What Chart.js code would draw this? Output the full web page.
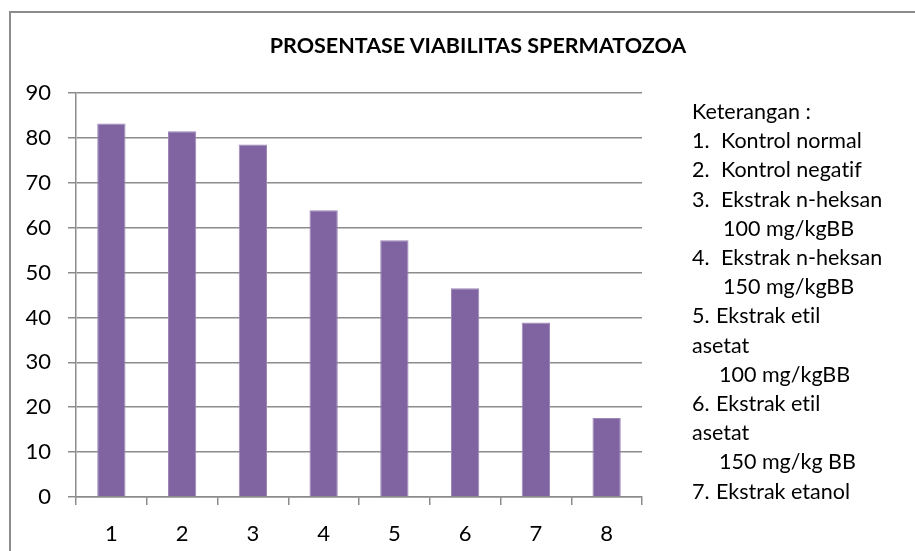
<!DOCTYPE html>
<html lang="id">
<head>
    <meta charset="UTF-8">
    <title>Prosentase Viabilitas Spermatozoa</title>
    <script src="https://cdn.jsdelivr.net/npm/chart.js"></script>
    <style>
        body {
            margin: 0;
            background: #ffffff;
            font-family: 'Lato', sans-serif;
            font-variant-ligatures: none;
            color: #000000;
        }
        .wrap {
            position: relative;
            width: 915px;
            height: 551px;
            overflow: hidden;
        }
        .frame {
            position: absolute;
            left: 9px;
            top: 11px;
            right: -10px;
            bottom: -10px;
            border: 2px solid #8c8c8c;
        }
        canvas {
            position: absolute;
            left: 0;
            top: 0;
        }
        .title {
            position: absolute;
            left: 0;
            width: 956px;
            top: 32px;
            text-align: center;
            font-weight: bold;
            font-size: 21.5px;
            line-height: 26px;
        }
        .note {
            position: absolute;
            left: 692px;
            top: 97px;
            font-size: 21.5px;
            line-height: 29.2px;
        }
        .note div { white-space: nowrap; }
        .note .n { display: inline-block; width: 29px; }
        .note .m { display: inline-block; width: 24px; }
    </style>
</head>
<body>
    <div class="wrap">
        <canvas id="viabChart" width="915" height="551"></canvas>
        <div class="frame"></div>
        <div class="title">PROSENTASE VIABILITAS SPERMATOZOA</div>
        <div class="note">
            <div>Keterangan :</div>
            <div><span class="n">1.</span>Kontrol normal</div>
            <div><span class="n">2.</span>Kontrol negatif</div>
            <div><span class="n">3.</span>Ekstrak n-heksan</div>
            <div style="padding-left:31px">100 mg/kgBB</div>
            <div><span class="n">4.</span>Ekstrak n-heksan</div>
            <div style="padding-left:31px">150 mg/kgBB</div>
            <div><span class="m">5.</span>Ekstrak etil</div>
            <div>asetat</div>
            <div style="padding-left:27px">100 mg/kgBB</div>
            <div><span class="m">6.</span>Ekstrak etil</div>
            <div>asetat</div>
            <div style="padding-left:27px">150 mg/kg BB</div>
            <div><span class="m">7.</span>Ekstrak etanol</div>
        </div>
    </div>
    <script>
        // data
        const categories = ['1', '2', '3', '4', '5', '6', '7', '8'];
        const viability = [83.2, 81.5, 78.5, 63.9, 57.2, 46.5, 38.9, 17.6];
        const yTicks = [0, 10, 20, 30, 40, 50, 60, 70, 80, 90];

        const gridColor = '#8c8c8c';
        const ctx = document.getElementById('viabChart').getContext('2d');

        new Chart(ctx, {
            type: 'bar',
            data: {
                labels: categories,
                datasets: [{
                    data: viability,
                    backgroundColor: '#8064a2',
                    borderColor: '#9d88b8',
                    borderWidth: 1,
                    barPercentage: 0.4,
                    categoryPercentage: 1.0
                }]
            },
            options: {
                responsive: false,
                animation: false,
                layout: {
                    padding: { top: 93, right: 273, left: 0, bottom: 0 }
                },
                plugins: {
                    legend: { display: false },
                    title: { display: false },
                    tooltip: { enabled: false }
                },
                scales: {
                    x: {
                        grid: {
                            offset: true,
                            drawOnChartArea: false,
                            drawTicks: true,
                            tickLength: 8,
                            color: gridColor,
                            lineWidth: 1.5
                        },
                        border: { display: true, color: gridColor, width: 1.5 },
                        ticks: {
                            padding: 16,
                            color: '#000',
                            font: { family: 'Lato', size: 22 }
                        },
                        afterFit: s => { s.height = 54; }
                    },
                    y: {
                        min: 0,
                        max: 90,
                        afterBuildTicks: s => { s.ticks = yTicks.map(v => ({ value: v })); },
                        grid: {
                            drawTicks: true,
                            tickLength: 8,
                            color: gridColor,
                            lineWidth: 1.5
                        },
                        border: { display: true, color: gridColor, width: 1.5 },
                        ticks: {
                            padding: 17,
                            color: '#000',
                            font: { family: 'Lato', size: 22 }
                        },
                        afterFit: s => { s.width = 76; }
                    }
                }
            }
        });
    </script>
</body>
</html>
